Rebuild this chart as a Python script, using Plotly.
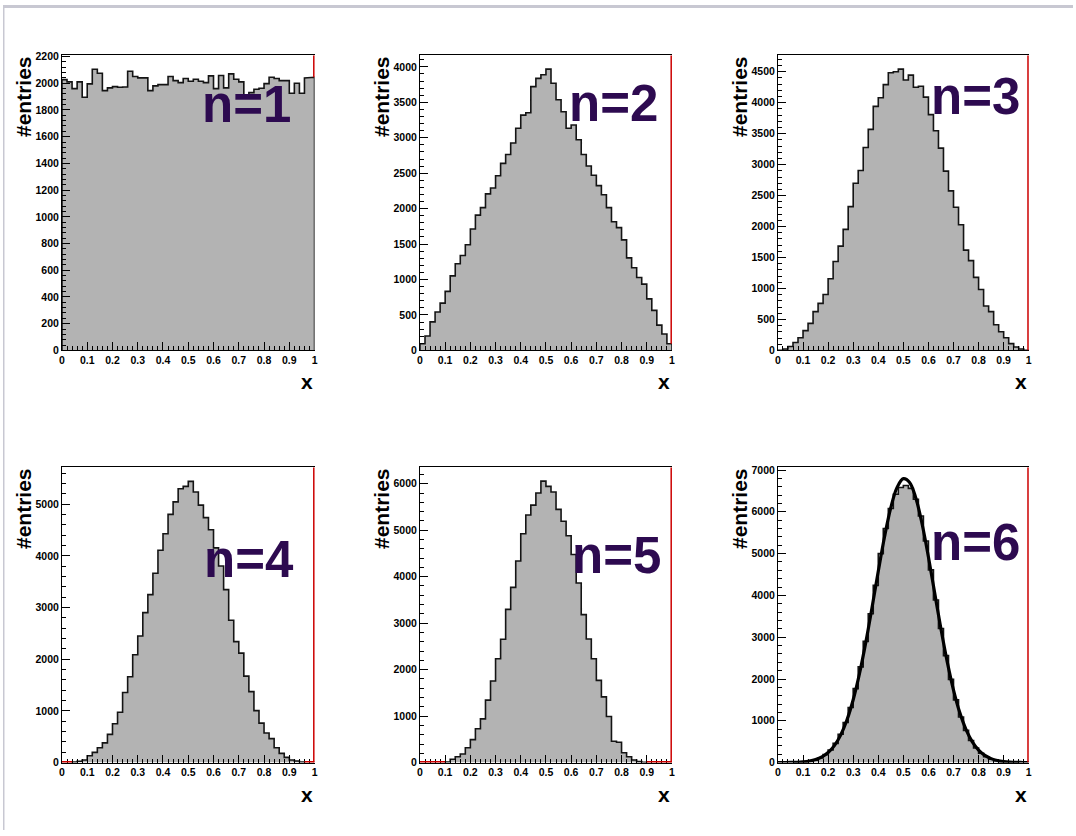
import plotly.graph_objects as go

# ---------------- data ----------------
X_MIN, X_MAX, N_BINS = 0.0, 1.0, 50

COUNTS_N1 = [2027, 2010, 1960, 2010, 1895, 1995, 2105, 2075, 1945, 1965,
             1975, 1970, 1972, 2090, 2050, 2040, 2040, 1945, 1980, 1990,
             1990, 2050, 2020, 2005, 2035, 2015, 2030, 2015, 2005, 2055,
             1960, 2058, 1965, 2070, 2030, 2010, 1890, 1930, 1955, 1962,
             1997, 2045, 2035, 2020, 2020, 1925, 2000, 1925, 2040, 2045]

COUNTS_N2 = [93, 204, 403, 542, 667, 833, 1051, 1222, 1338, 1491,
             1713, 1908, 2014, 2209, 2292, 2463, 2639, 2764, 2926, 3134,
             3320, 3352, 3722, 3838, 3889, 3968, 3769, 3537, 3366, 3134,
             3181, 2972, 2764, 2602, 2472, 2324, 2195, 2014, 1815, 1732,
             1560, 1306, 1167, 1028, 935, 727, 565, 357, 231, 93]

COUNTS_N3 = [3, 22, 62, 128, 205, 319, 436, 627, 760, 903,
             1158, 1435, 1684, 1955, 2322, 2699, 2906, 3278, 3570, 3942,
             4080, 4293, 4484, 4500, 4543, 4367, 4447, 4250, 4266, 4091,
             3809, 3549, 3267, 2896, 2577, 2311, 2030, 1620, 1450, 1180,
             983, 717, 627, 414, 300, 205, 110, 55, 22, 3]

COUNTS_N4 = [0, 0, 13, 25, 51, 134, 197, 286, 382, 547,
             751, 973, 1355, 1660, 2086, 2449, 2901, 3250, 3664, 4109,
             4427, 4803, 5044, 5299, 5343, 5440, 5235, 4981, 4739, 4504,
             4154, 3804, 3346, 2754, 2341, 2118, 1673, 1374, 1005, 763,
             572, 464, 286, 178, 102, 51, 32, 13, 0, 0]

COUNTS_N5 = [0, 0, 0, 0, 0, 14, 71, 127, 184, 318,
             495, 729, 941, 1344, 1755, 2236, 2653, 3297, 3771, 4337,
             4924, 5327, 5540, 5802, 6056, 5943, 5822, 5448, 5193, 4882,
             4479, 3863, 3184, 2660, 2236, 1769, 1415, 991, 460, 439,
             212, 127, 57, 21, 7, 0, 0, 0, 0, 0]

COUNTS_N6 = [0, 0, 0, 1, 5, 12, 28, 60, 110, 190,
             300, 460, 680, 960, 1320, 1770, 2290, 2900, 3560, 4240,
             5000, 5600, 6080, 6420, 6580, 6630, 6560, 6300, 5900, 5300,
             4610, 3890, 3210, 2560, 1990, 1500, 1090, 770, 530, 350,
             225, 140, 80, 45, 22, 10, 4, 1, 0, 0]

# fitted gaussian curve drawn on the n=6 panel
FIT_X = [0.0, 0.025, 0.05, 0.075, 0.1, 0.125, 0.15, 0.175, 0.2, 0.225,
         0.25, 0.275, 0.3, 0.325, 0.35, 0.375, 0.4, 0.425, 0.45, 0.475,
         0.5, 0.525, 0.55, 0.575, 0.6, 0.625, 0.65, 0.675, 0.7, 0.725,
         0.75, 0.775, 0.8, 0.825, 0.85, 0.875, 0.9, 0.925, 0.95, 0.975, 1.0]
FIT_Y = [1, 2, 4, 9, 19, 38, 74, 136, 241, 407,
         658, 1018, 1503, 2125, 2870, 3707, 4577, 5404, 6100, 6584,
         6794, 6703, 6323, 5703, 4918, 4055, 3196, 2409, 1736, 1196,
         788, 496, 299, 172, 95, 50, 25, 12, 6, 3, 1]

PANEL_LABELS = ["n=1", "n=2", "n=3", "n=4", "n=5", "n=6"]
Y_TITLE = "#entries"
X_TITLE = "x"

ALL_COUNTS = [COUNTS_N1, COUNTS_N2, COUNTS_N3, COUNTS_N4, COUNTS_N5, COUNTS_N6]

# ---------------- layout / style constants ----------------
W, H = 1076, 836
COL_PX = [(59.3, 313.3), (419.3, 672.7), (779.3, 1031.5)]
ROW_PX = [(51.0, 350.0), (468.5, 767.7)]          # top, bottom
Y_MAX = [2209, 4163, 4766, 5712, 6353, 7064]
Y_DTICK = [200, 500, 500, 1000, 1000, 1000]
LABEL_CENTER_PX = [(245, 100.5), (614, 100), (978, 92.5),
                   (247, 562), (617, 558), (978, 545)]

FILL = "#b3b3b3"
OUTLINE = "#141414"
RED = "#cc0000"
PURPLE = "#2d0a50"
FONT = "Liberation Sans, Arial, Helvetica, sans-serif"


def px_x(p):
    return p / W


def px_y(p):
    return 1 - p / H


BIN_EDGES = [X_MIN + (X_MAX - X_MIN) * i / N_BINS for i in range(N_BINS + 1)]


def outline_path(counts):
    xs, ys = [], []
    prev = 0
    for i, c in enumerate(counts):
        x0, x1 = BIN_EDGES[i], BIN_EDGES[i + 1]
        if c > 0:
            if prev == 0:
                xs.append(x0); ys.append(0)
            xs += [x0, x1]; ys += [c, c]
        elif prev > 0:
            xs.append(x0); ys.append(0)
            xs.append(None); ys.append(None)
        prev = c
    if prev > 0:
        xs.append(BIN_EDGES[-1]); ys.append(0)
    return xs, ys


fig = go.Figure()
shapes = []
annotations = []
layout_axes = {}

for k, counts in enumerate(ALL_COUNTS):
    row, col = divmod(k, 3)
    sfx = "" if k == 0 else str(k + 1)
    xa, ya = "x" + sfx, "y" + sfx
    xl, xr = COL_PX[col]
    yt, yb = ROW_PX[row]

    # histogram fill
    fig.add_trace(go.Scatter(
        x=BIN_EDGES, y=counts + [counts[-1]], mode="lines",
        line=dict(shape="hv", width=0, color=FILL),
        fill="tozeroy", fillcolor=FILL,
        xaxis=xa, yaxis=ya, hoverinfo="skip", showlegend=False))
    # histogram outline
    ox, oy = outline_path(counts)
    fig.add_trace(go.Scatter(
        x=ox, y=oy, mode="lines", line=dict(color=OUTLINE, width=1.6),
        connectgaps=False, xaxis=xa, yaxis=ya, hoverinfo="skip",
        showlegend=False))

    if k == 5:
        fig.add_trace(go.Scatter(
            x=FIT_X, y=FIT_Y, mode="lines",
            line=dict(color="black", width=3.2, shape="spline"),
            xaxis=xa, yaxis=ya, hoverinfo="skip", showlegend=False))

    tickfont = dict(family=FONT, size=10.5, color="black", weight="bold")
    layout_axes["xaxis" + sfx] = dict(
        domain=[px_x(xl), px_x(xr)], anchor=ya, range=[X_MIN, X_MAX],
        tick0=0, dtick=0.1, ticks="inside", ticklen=8, tickwidth=1,
        tickcolor="black", showline=True, linecolor="black", linewidth=1,
        mirror=True, showgrid=False, zeroline=False, tickfont=tickfont,
        minor=dict(tick0=0, dtick=0.02, ticks="inside", ticklen=4,
                   tickwidth=1, tickcolor="black", showgrid=False),
        fixedrange=True)
    layout_axes["yaxis" + sfx] = dict(
        domain=[px_y(yb), px_y(yt)], anchor=xa, range=[0, Y_MAX[k]],
        tick0=0, dtick=Y_DTICK[k], ticks="inside", ticklen=8, tickwidth=1,
        tickcolor="black", showline=True, linecolor="black", linewidth=1,
        showgrid=False, zeroline=False, tickfont=tickfont,
        minor=dict(tick0=0, dtick=Y_DTICK[k] / 5, ticks="inside", ticklen=4,
                   tickwidth=1, tickcolor="black", showgrid=False),
        fixedrange=True)

    # red right frame edge, visible above the last bin
    shapes.append(dict(type="line", xref=xa, yref=ya, x0=X_MAX, x1=X_MAX,
                       y0=counts[-1], y1=Y_MAX[k], layer="above",
                       line=dict(color=RED, width=3)))
    # red bottom frame where the histogram is empty
    if k != 5:
        i = 0
        while i < N_BINS:
            if counts[i] == 0:
                j = i
                while j < N_BINS and counts[j] == 0:
                    j += 1
                shapes.append(dict(type="line", xref=xa, yref=ya,
                                   x0=BIN_EDGES[i], x1=BIN_EDGES[j], y0=0, y1=0,
                                   layer="above", line=dict(color=RED, width=3)))
                i = j
            else:
                i += 1

    # y title
    annotations.append(dict(
        text=Y_TITLE, xref="paper", yref="paper", x=px_x(xl - 38),
        y=px_y(yt - 1), xanchor="center", yanchor="top", textangle=-90,
        showarrow=False, font=dict(family=FONT, size=21, color="black",
                                   weight="bold")))
    # x title
    annotations.append(dict(
        text=X_TITLE, xref="paper", yref="paper", x=px_x(xr + 0.5),
        y=px_y(yb + 32), xanchor="right", yanchor="middle", showarrow=False,
        font=dict(family=FONT, size=21, color="black", weight="bold")))
    # n= label
    cx, cy = LABEL_CENTER_PX[k]
    annotations.append(dict(
        text=PANEL_LABELS[k], xref="paper", yref="paper", x=px_x(cx),
        y=px_y(cy), xanchor="center", yanchor="middle", showarrow=False,
        font=dict(family=FONT, size=51, color=PURPLE, weight="bold")))

# page border (light gray band on top and left)
shapes.append(dict(type="rect", xref="paper", yref="paper", x0=0, x1=1,
                   y0=1 - 3 / H, y1=1, fillcolor="#c8c8d2",
                   line=dict(width=0), layer="above"))
shapes.append(dict(type="rect", xref="paper", yref="paper", x0=0,
                   x1=1.5 / W, y0=0, y1=1, fillcolor="#c8c8d2",
                   line=dict(width=0), layer="above"))

fig.update_layout(
    width=W, height=H, margin=dict(l=0, r=0, t=0, b=0),
    paper_bgcolor="white", plot_bgcolor="white", showlegend=False,
    shapes=shapes, annotations=annotations, **layout_axes)

fig.write_html("out.html")
